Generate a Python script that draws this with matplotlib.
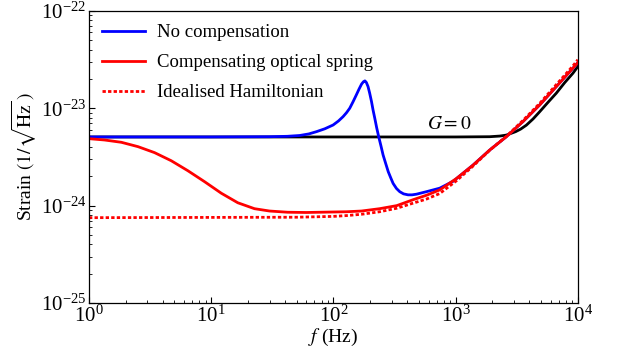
import matplotlib
matplotlib.use("Agg")
import matplotlib.pyplot as plt
from matplotlib.ticker import LogLocator, NullFormatter

# Noise curves (frequency in Hz, strain in 1/sqrt(Hz))
f_g0 = [1, 100, 1000, 1900, 2300, 2600, 3100, 3400, 3790, 4300, 4870, 5700,
        6670, 7800, 9120, 10000]
s_g0 = [5.07e-24, 5.07e-24, 5.07e-24, 5.1e-24, 5.18e-24, 5.3e-24, 5.75e-24,
        6.1e-24, 6.7e-24, 7.76e-24, 9.2e-24, 1.15e-23, 1.43e-23, 1.83e-23,
        2.29e-23, 2.68e-23]

f_nocomp = [1, 10, 30, 42, 53, 63, 72.8, 85, 99.5, 110, 120, 128, 136, 145,
            154, 162, 170, 176, 181, 186, 192, 198, 205, 211, 218, 226, 235,
            245, 255, 268, 281, 295, 308, 328, 349, 375, 408, 440, 478, 577,
            741, 956, 1390, 1900, 2600, 3560, 4870, 6670, 9120, 10000]
s_nocomp = [5.07e-24, 5.07e-24, 5.1e-24, 5.15e-24, 5.25e-24, 5.45e-24, 5.75e-24,
            6.15e-24, 6.73e-24, 7.4e-24, 8.2e-24, 9.0e-24, 1.0e-23, 1.17e-23,
            1.37e-23, 1.57e-23, 1.77e-23, 1.87e-23, 1.91e-23, 1.84e-23, 1.67e-23,
            1.43e-23, 1.17e-23, 9.6e-24, 7.9e-24, 6.3e-24, 5.07e-24, 4.1e-24,
            3.31e-24, 2.7e-24, 2.23e-24, 1.92e-24, 1.69e-24, 1.5e-24, 1.39e-24,
            1.32e-24, 1.29e-24, 1.29e-24, 1.31e-24, 1.39e-24, 1.51e-24, 1.78e-24,
            2.61e-24, 3.72e-24, 5.1e-24, 7.3e-24, 1.08e-23, 1.67e-23, 2.58e-23,
            2.94e-23]

f_comp = [1, 1.34, 1.84, 2.52, 3.44, 4.71, 6.45, 8.83, 12.1, 16.5, 22.6, 30,
          42.3, 60, 128, 170, 239, 330, 449, 580, 741, 1016, 1390, 1900, 2600,
          3560, 4870, 6670, 9120, 10000]
s_comp = [4.87e-24, 4.72e-24, 4.47e-24, 4.03e-24, 3.5e-24, 2.89e-24, 2.28e-24,
          1.76e-24, 1.34e-24, 1.07e-24, 9.3e-25, 8.8e-25, 8.55e-25, 8.5e-25,
          8.65e-25, 8.8e-25, 9.3e-25, 1.0e-24, 1.15e-24, 1.28e-24, 1.45e-24,
          1.9e-24, 2.61e-24, 3.72e-24, 5.1e-24, 7.3e-24, 1.08e-23, 1.67e-23,
          2.58e-23, 2.94e-23]

f_ideal = [1, 50, 100, 128, 170, 239, 330, 449, 580, 741, 1016, 1390, 1900,
           2600, 3560, 4870, 6670, 9120, 10000]
s_ideal = [7.52e-25, 7.6e-25, 7.75e-25, 7.9e-25, 8.15e-25, 8.65e-25, 9.4e-25,
           1.06e-24, 1.17e-24, 1.33e-24, 1.8e-24, 2.55e-24, 3.7e-24, 5.15e-24,
           7.5e-24, 1.12e-23, 1.75e-23, 2.72e-23, 3.15e-23]

plt.rcParams['font.family'] = ['Liberation Serif', 'DejaVu Serif']
plt.rcParams['mathtext.fontset'] = 'stix'

fig = plt.figure(figsize=(6.18, 3.62), dpi=100)
ax = fig.add_axes([0.144, 0.163, 0.791, 0.807])

ax.plot(f_g0, s_g0, color='black', lw=2)
ax.plot(f_nocomp, s_nocomp, color='#0000ff', lw=2, label='No compensation')
ax.plot(f_comp, s_comp, color='#ff0000', lw=2, label='Compensating optical spring')
ax.plot(f_ideal, s_ideal, color='#ff0000', lw=2, ls=(0, (1.2, 0.8)),
        label='Idealised Hamiltonian')

ax.text(879, 6.12e-24, '$G = 0$', ha='center', va='baseline', fontsize=14)

ax.set_xscale('log')
ax.set_yscale('log')
ax.set_xlim(1, 1e4)
ax.set_ylim(1e-25, 1e-22)

# ticks inside, only on the left and bottom
ax.xaxis.set_minor_locator(LogLocator(base=10, subs=range(2, 10), numticks=20))
ax.yaxis.set_minor_locator(LogLocator(base=10, subs=range(2, 10), numticks=20))
ax.xaxis.set_minor_formatter(NullFormatter())
ax.yaxis.set_minor_formatter(NullFormatter())
ax.tick_params(which='both', direction='in', top=False, right=False, labelsize=15)
ax.tick_params(which='major', length=4, width=0.8, pad=2)
ax.tick_params(which='minor', length=2.5, width=0.6)
for sp in ax.spines.values():
    sp.set_linewidth(0.9)

ax.set_xlabel('$f$ (Hz)', fontsize=14, labelpad=0)
ax.set_ylabel(r'Strain $(1/\sqrt{\mathrm{Hz}}\,)$', fontsize=14, labelpad=1)

ax.legend(loc='upper left', frameon=False, fontsize=13.5, handlelength=2.3,
          labelspacing=0.69, borderaxespad=0.3, handletextpad=0.64)

fig.savefig('out.png', dpi=100)
